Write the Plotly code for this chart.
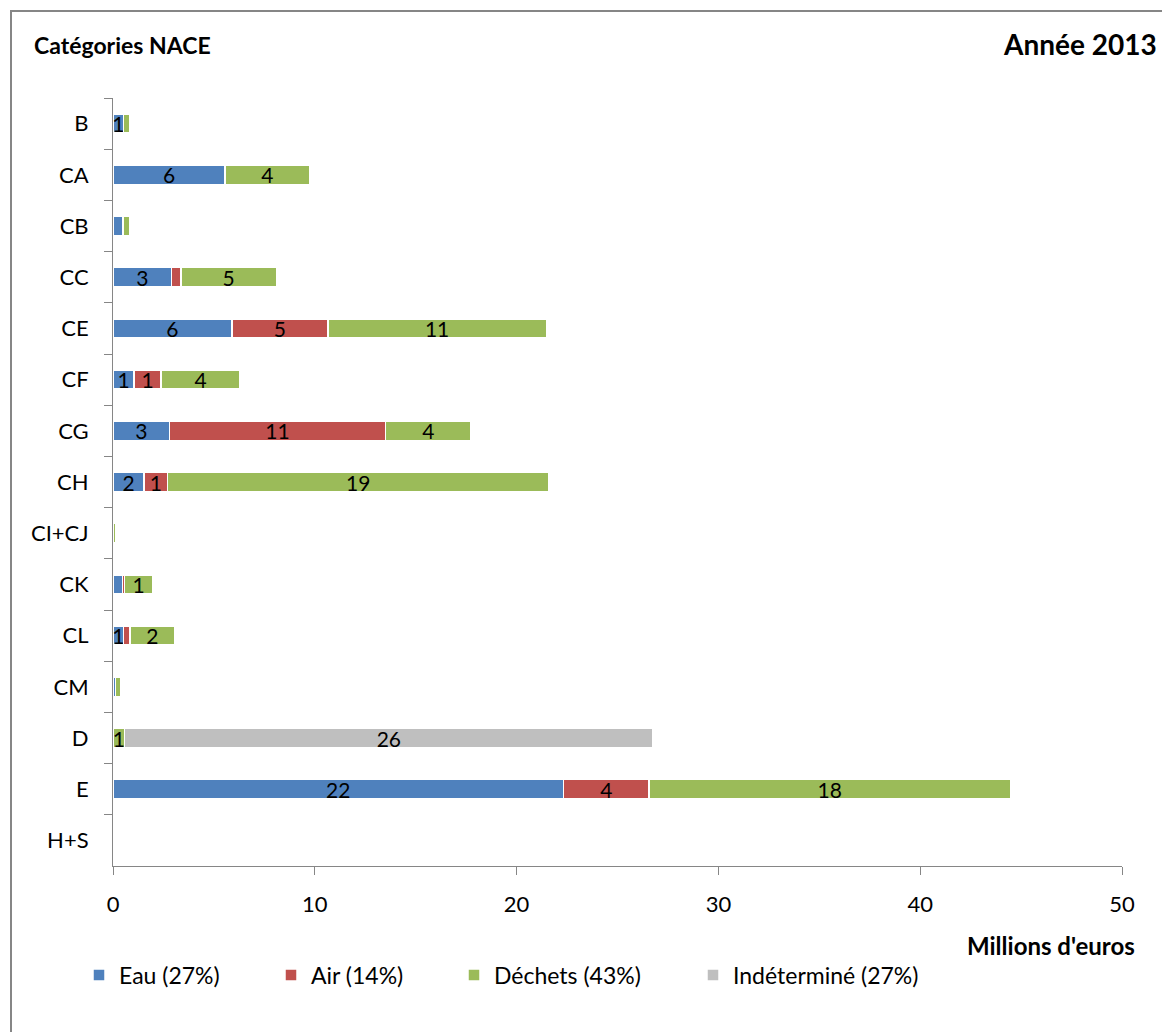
import plotly.graph_objects as go

# NACE categories (top to bottom) and environmental spending, millions of euros, 2013
categories = ["B", "CA", "CB", "CC", "CE", "CF", "CG", "CH", "CI+CJ",
              "CK", "CL", "CM", "D", "E", "H+S"]
eau = [0.52, 5.55, 0.49, 2.91, 5.89, 1.04, 2.80, 1.54, 0.0,
       0.46, 0.52, 0.12, 0.0, 22.33, 0.0]
air = [0.0, 0.0, 0.0, 0.45, 4.76, 1.34, 10.70, 1.17, 0.0,
       0.10, 0.33, 0.0, 0.0, 4.24, 0.0]
dechets = [0.30, 4.20, 0.32, 4.73, 10.82, 3.92, 4.25, 18.89, 0.15,
           1.42, 2.20, 0.25, 0.57, 17.90, 0.05]
indetermine = [0.0, 0.0, 0.0, 0.0, 0.0, 0.0, 0.0, 0.0, 0.0,
               0.0, 0.0, 0.0, 26.20, 0.0, 0.0]

series_names = ["Eau (27%)", "Air (14%)", "Déchets (43%)", "Indéterminé (27%)"]
series_values = [eau, air, dechets, indetermine]
series_colors = ["#4F81BD", "#C0504D", "#9BBB59", "#BFBFBF"]

x_ticks = [0, 10, 20, 30, 40, 50]

FONT = "Lato"
W, H = 1162, 1032
L, R, T, B = 113, 40, 98, 166

fig = go.Figure()

legend_ids = ["legend", "legend2", "legend3", "legend4"]
legend_left_px = [79, 271, 454, 693]

for name, vals, color, lid in zip(series_names, series_values, series_colors, legend_ids):
    # value labels: show rounded value, hide segments that round to zero
    templates = ["%{x:.0f}" if v >= 0.5 else "" for v in vals]
    fig.add_trace(go.Bar(
        y=categories, x=vals, name=name, orientation="h",
        marker=dict(color=color, line=dict(color="white", width=1.5)),
        texttemplate=templates, textposition="inside",
        insidetextanchor="middle", constraintext="none", textangle=0,
        textfont=dict(family=FONT, size=21, color="black"),
        cliponaxis=False, legend=lid, hoverinfo="x+y+name",
    ))

legend_common = dict(
    orientation="h", xref="container", yref="container",
    yanchor="middle", xanchor="left",
    font=dict(family=FONT, size=23, color="black"),
    bgcolor="rgba(0,0,0,0)", borderwidth=0,
)
layout_legends = {}
for lid, lx in zip(legend_ids, legend_left_px):
    layout_legends[lid] = dict(legend_common, x=lx / W, y=1 - 975 / H)

fig.update_layout(
    width=W, height=H,
    margin=dict(l=L, r=R, t=T, b=B, pad=0),
    paper_bgcolor="white", plot_bgcolor="white",
    barmode="stack", bargap=0.63,
    showlegend=True,
    font=dict(family=FONT, size=21, color="black"),
    xaxis=dict(
        range=[0, 50], tickvals=x_ticks, showgrid=False, zeroline=False,
        showline=True, linecolor="#868686", linewidth=1,
        ticks="outside", ticklen=8, tickcolor="#868686", tickwidth=1,
        tickfont=dict(family=FONT, size=22, color="black"),
        ticklabelstandoff=11,
    ),
    yaxis=dict(
        categoryorder="array", categoryarray=categories, autorange="reversed",
        showgrid=False, zeroline=False,
        showline=True, linecolor="#868686", linewidth=1,
        ticks="outside", ticklen=8, tickcolor="#868686", tickwidth=1,
        tickson="boundaries",
        tickfont=dict(family=FONT, size=22, color="black"),
        ticklabelstandoff=19,
    ),
    **layout_legends,
)

pw, ph = W - L - R, H - T - B


def px_x(x):
    return (x - L) / pw


def px_y(y):
    return (H - B - y) / ph


# chart frame
fig.add_shape(type="rect", xref="paper", yref="paper",
              x0=px_x(11), x1=px_x(1175), y0=px_y(1045), y1=px_y(11),
              line=dict(color="#868686", width=2), fillcolor="rgba(0,0,0,0)",
              layer="below")

fig.add_annotation(text="<b>Catégories NACE</b>", xref="paper", yref="paper",
                   x=px_x(32), y=px_y(45), xanchor="left", yanchor="middle",
                   showarrow=False, font=dict(family=FONT, size=23, color="black"))
fig.add_annotation(text="<b>Année 2013</b>", xref="paper", yref="paper",
                   x=px_x(1159), y=px_y(44), xanchor="right", yanchor="middle",
                   showarrow=False, font=dict(family=FONT, size=28, color="black"))
fig.add_annotation(text="<b>Millions d'euros</b>", xref="paper", yref="paper",
                   x=px_x(1137), y=px_y(945), xanchor="right", yanchor="middle",
                   showarrow=False, font=dict(family=FONT, size=24, color="black"))

fig.write_html("out.html")
